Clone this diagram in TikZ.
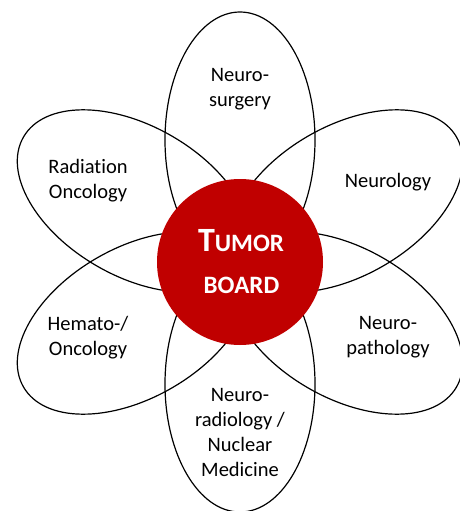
\documentclass[tikz,border=0pt]{standalone}
\usepackage{fontspec}
\setmainfont[Ligatures=NoCommon]{Carlito}
\definecolor{boardred}{HTML}{C00000}
\begin{document}
\begin{tikzpicture}[x=1pt,y=-1pt,
  petal/.style={draw=black, line width=1.2pt},
  lbl/.style={align=center, font=\fontsize{20.5}{25}\selectfont, text=black, inner sep=0pt},
  hub/.style={circle, fill=boardred, minimum size=166pt, inner sep=0pt}]
\useasboundingbox (0,0) rectangle (460,511);
\coordinate (c) at (240,262);
\foreach \a in {90,30,-30,-90,-150,150}{
  \draw[petal, shift={(c)}, rotate=\a] (122pt,0pt) ellipse [x radius=128pt, y radius=75pt];
}
\node[hub] (board) at (c) {};
\node[text=white, font=\bfseries, inner sep=0pt] (tumor) at (241,241)
  {\fontsize{34}{34}\selectfont T\fontsize{25}{25}\selectfont UMOR};
\node[text=white, font=\bfseries, inner sep=0pt] (boardtxt) at (241.5,285.5)
  {\fontsize{25}{25}\selectfont BOARD};
\node[lbl] (ns) at (240,89.5) {Neuro-\\surgery};
\node[lbl] (ro) at (88,180.5) {Radiation\\Oncology};
\node[lbl] (nl) at (388,182) {Neurology};
\node[lbl] (ho) at (88,337.5) {Hemato-/\\Oncology};
\node[lbl] (np) at (388,337.5) {Neuro-\\pathology};
\node[lbl] (nr) at (240,432.5) {Neuro-\\radiology /\\Nuclear\\Medicine};
\end{tikzpicture}
\end{document}
